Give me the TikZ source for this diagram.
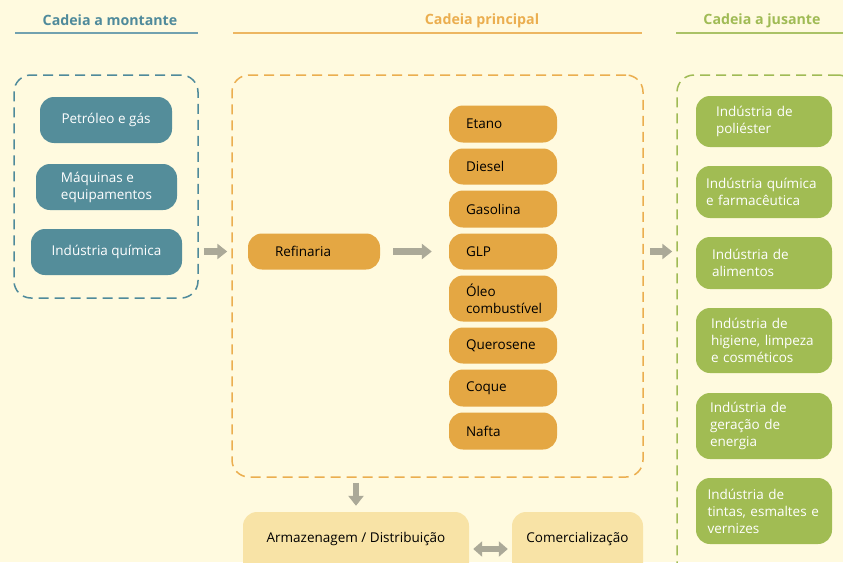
\documentclass[tikz,border=0pt]{standalone}
\usepackage{fontspec}
\setmainfont{Open Sans}
\usetikzlibrary{arrows.meta}

\definecolor{bg}{HTML}{FFFADF}
\definecolor{tealbox}{HTML}{548D9A}
\definecolor{tealline}{HTML}{4F8A9B}
\definecolor{orangebox}{HTML}{E4A743}
\definecolor{orangeline}{HTML}{EBAE4F}
\definecolor{greenbox}{HTML}{A1BC53}
\definecolor{greenline}{HTML}{A0BB55}
\definecolor{lightbox}{HTML}{F8E3A6}
\definecolor{arrowgrey}{HTML}{ABA998}

\tikzset{
  heading/.style={font=\bfseries\fontsize{14.2}{16}\selectfont},
  chainframe/.style={draw, line width=1.5pt, dash pattern=on 10pt off 6pt,
    rounded corners=17pt, minimum width=#1},
  upbox/.style={fill=tealbox, text=white, rounded corners=14pt, align=left,
    font=\fontsize{13.5}{17}\selectfont, inner sep=0pt},
  prodbox/.style={fill=orangebox, text=black, rounded corners=14pt, align=left,
    text width=74pt, minimum width=108pt, inner sep=0pt,
    font=\fontsize{13.5}{17}\selectfont},
  downbox/.style={fill=greenbox, text=white, rounded corners=14pt, align=left,
    text width=#1, minimum width=136pt, inner sep=0pt,
    font=\fontsize{13.5}{17}\selectfont},
  tradebox/.style={fill=lightbox, text=black, rounded corners=14pt,
    minimum height=68pt, text height=9pt, text depth=16pt, inner sep=0pt,
    font=\fontsize{13.5}{17}\selectfont},
  flow/.style={draw=arrowgrey, line width=6.5pt,
    -{Triangle[length=10pt,width=15pt]}},
  twoway/.style={draw=arrowgrey, line width=6.5pt,
    {Triangle[length=9pt,width=15pt]}-{Triangle[length=9pt,width=15pt]}},
}

\begin{document}
\begin{tikzpicture}[x=1pt,y=-1pt]
\useasboundingbox[fill=bg] (0,0) rectangle (843,562);

% column headings with their rules
\node[heading, text=tealline] (hup) at (110,20.5) {Cadeia a montante};
\node[heading, text=orangeline] (hmain) at (482,20.5) {Cadeia principal};
\node[heading, text=greenline] (hdown) at (762,20.5) {Cadeia a jusante};
\draw[tealline!80, line width=1.6pt] (15,33) -- (198,33);
\draw[orangeline!90, line width=1.6pt] (233,33) -- (642,33);
\draw[greenline!90, line width=1.6pt] (676,33) -- (843,33);

% dashed frames of the three chains
\node[chainframe=184pt, draw=tealline, minimum height=223pt] (up) at (106,186.5) {};
\node[chainframe=411pt, draw=orangeline, minimum height=402pt] (main) at (437.5,276) {};
\node[chainframe=178pt, draw=greenline, minimum height=505pt] (down) at (766,327.5) {};

% upstream
\node[upbox, minimum width=132pt, minimum height=46pt] (pet) at (106,120) {Petróleo e gás};
\node[upbox, minimum width=141pt, minimum height=46pt] (maq) at (106.5,187) {Máquinas e\\equipamentos};
\node[upbox, minimum width=151pt, minimum height=46pt] (qui) at (106.5,252) {Indústria química};

% refinery and its products
\node[prodbox, text width=78pt, minimum width=132pt, minimum height=36pt] (ref) at (314,251.5) {Refinaria};
\node[prodbox, minimum height=37pt] (etano) at (503,124) {Etano};
\node[prodbox, minimum height=36pt] (diesel) at (503,166.5) {Diesel};
\node[prodbox, minimum height=37pt] (gasolina) at (503,209) {Gasolina};
\node[prodbox, minimum height=36pt] (glp) at (503,251.5) {GLP};
\node[prodbox, minimum height=46pt] (oleo) at (503,298.5) {Óleo\\combustível};
\node[prodbox, minimum height=36pt] (querosene) at (503,345.5) {Querosene};
\node[prodbox, minimum height=37pt] (coque) at (503,388) {Coque};
\node[prodbox, minimum height=37pt] (nafta) at (503,431) {Nafta};

% downstream industries
\node[downbox=96pt, minimum height=51pt] (pol) at (764,121.5) {Indústria de\\poliéster};
\node[downbox=116pt, minimum height=52pt] (farm) at (764,192) {Indústria química\\e farmacêutica};
\node[downbox=104pt, minimum height=52pt] (alim) at (764,263) {Indústria de\\alimentos};
\node[downbox=106pt, minimum height=65pt] (hig) at (764,340.5) {Indústria de\\higiene, limpeza\\e cosméticos};
\node[downbox=108pt, minimum height=66pt] (ger) at (764,426) {Indústria de\\geração de\\energia};
\node[downbox=113pt, minimum height=66pt] (tin) at (764,511) {Indústria de\\tintas, esmaltes e\\vernizes};

% storage and trade
\node[tradebox, minimum width=226pt] (arm) at (356,546) {Armazenagem / Distribuição};
\node[tradebox, minimum width=131pt] (com) at (577.5,546) {Comercialização};

% flows
\draw[flow, shorten <=5pt, shorten >=4pt] (up.east |- ref.west) -- (main.west |- ref.west);
\draw[flow, shorten <=13pt, shorten >=17pt] (ref.east) -- (glp.west);
\draw[flow, shorten <=6pt, shorten >=4pt] (main.east |- ref.east) -- (down.west |- ref.east);
\draw[flow, shorten <=5pt, shorten >=6pt] (main.south -| arm.north) -- (arm.north);
\draw[twoway, shorten <=4pt, shorten >=4pt] ([yshift=-3pt]arm.east) -- ([yshift=-3pt]com.west);
\end{tikzpicture}
\end{document}
